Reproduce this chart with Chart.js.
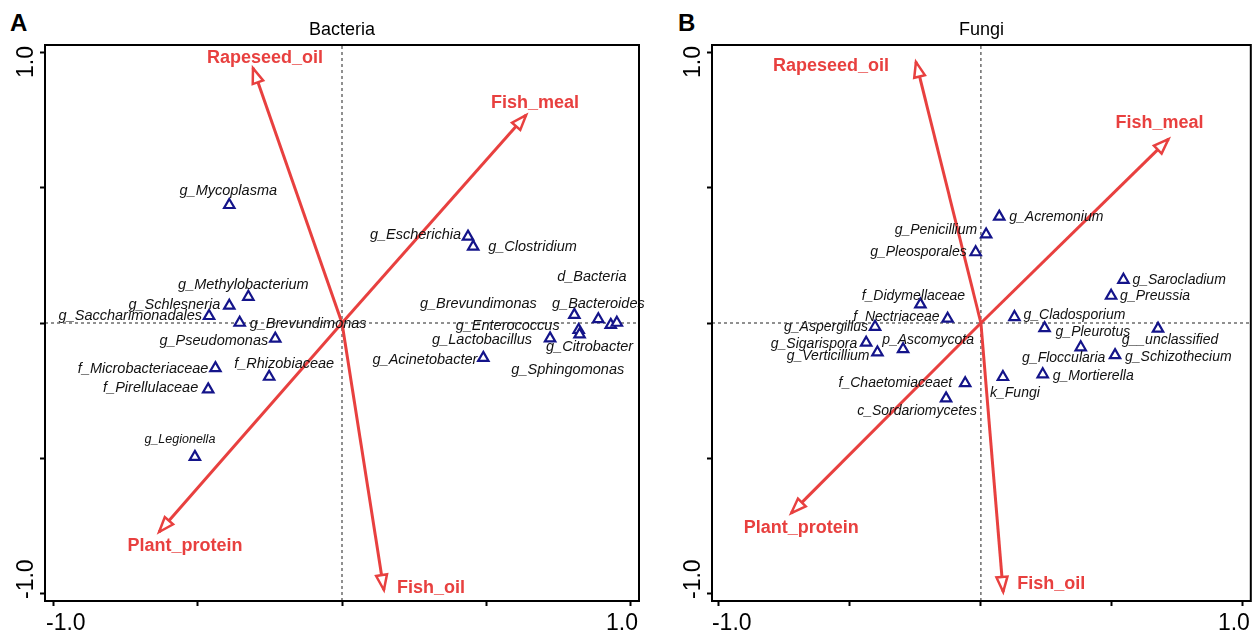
<!DOCTYPE html>
<html>
<head>
<meta charset="utf-8">
<script src="https://cdn.jsdelivr.net/npm/chart.js@4.4.1/dist/chart.umd.min.js"></script>
<style>
  body { margin: 0; background: #fff; width: 1259px; height: 636px; position: relative; overflow: hidden; font-family: "Liberation Sans", Arial, sans-serif; }
  canvas { position: absolute; top: 0; }
  #chartA { left: 0; }
  #chartB { left: 660px; }
  .tag { position: absolute; font-weight: bold; font-size: 24px; color: #000; }
</style>
</head>
<body>
<div class="tag" style="left:10px;top:9px">A</div>
<div class="tag" style="left:678px;top:9px">B</div>
<canvas id="chartA" width="660" height="636"></canvas>
<canvas id="chartB" width="599" height="636"></canvas>
<script>
// axis ticks
const tickValues = [-1, -0.5, 0, 0.5, 1];
const tickLabels = ['-1.0', '', '', '', '1.0'];

// environmental arrows (same order in both panels)
const envNames = ['Rapeseed_oil', 'Fish_meal', 'Plant_protein', 'Fish_oil'];
const bactEnvX = [-0.308, 0.637, -0.633, 0.145];
const bactEnvY = [0.944, 0.770, -0.774, -0.989];
const fungiEnvX = [-0.248, 0.716, -0.724, 0.085];
const fungiEnvY = [0.967, 0.681, -0.704, -0.996];

// Bacteria taxa
const bactNames = ['g_Mycoplasma', 'g_Methylobacterium', 'g_Schlesneria', 'g_Saccharimonadales', 'g_Brevundimonas',
  'g_Pseudomonas', 'f_Microbacteriaceae', 'f_Rhizobiaceae', 'f_Pirellulaceae', 'g_Legionella',
  'g_Escherichia', 'g_Clostridium', 'g_Bacteroides', 'g_Brevundimonas', 'g_Sphingomonas',
  'd_Bacteria', 'g_Enterococcus', 'g_Citrobacter', 'g_Lactobacillus', 'g_Acinetobacter'];
const bactX = [-0.390, -0.324, -0.390, -0.460, -0.354, -0.231, -0.438, -0.252, -0.463, -0.509,
  0.436, 0.454, 0.804, 0.887, 0.930, 0.951, 0.819, 0.822, 0.720, 0.489];
const bactY = [0.437, 0.097, 0.064, 0.026, 0.001, -0.058, -0.167, -0.199, -0.246, -0.496,
  0.320, 0.283, 0.030, 0.014, -0.007, 0.001, -0.026, -0.042, -0.057, -0.129];

// Fungi taxa
const fungiNames = ['g_Acremonium', 'g_Penicillium', 'g_Pleosporales', 'f_Didymellaceae', 'f_Nectriaceae',
  'g_Aspergillus', 'g_Sigarispora', 'g_Verticillium', 'p_Ascomycota', 'f_Chaetomiaceaet',
  'c_Sordariomycetes', 'k_Fungi', 'g_Cladosporium', 'g_Pleurotus', 'g__unclassified',
  'g_Floccularia', 'g_Schizothecium', 'g_Mortierella', 'g_Sarocladium', 'g_Preussia'];
const fungiX = [0.070, 0.020, -0.020, -0.231, -0.127, -0.404, -0.438, -0.395, -0.297, -0.060,
  -0.133, 0.084, 0.128, 0.243, 0.676, 0.381, 0.512, 0.236, 0.544, 0.497];
const fungiY = [0.394, 0.328, 0.262, 0.069, 0.016, -0.014, -0.073, -0.109, -0.097, -0.223,
  -0.279, -0.200, 0.022, -0.019, -0.021, -0.090, -0.119, -0.190, 0.160, 0.101];

// label placement: [dx, dy, align, fontSize] in pixels from the marker
const bactLabelPos = [[-1, -14, 'center'], [-5, -12, 'center'], [-9, -1, 'right'], [-7, 0, 'right'], [10, 1, 'left'],
  [-7, 2, 'right'], [-7, 1, 'right'], [15, -13, 'center'], [-10, -1, 'right'], [-15, -17, 'center', 12.5],
  [-7, -2, 'right'], [15, 0, 'left'], [24, -11, 'center'], [-120, -15, 'center'], [-43, 45, 'center'],
  [-25, -46, 'center'], [-19, -4, 'right'], [10, 13, 'center'], [-18, 2, 'right'], [-6, 2, 'right']];
const fungiLabelPos = [[10, 0, 'left'], [-9, -4, 'right'], [-9, 0, 'right'], [-7, -8, 'center'], [-8, -2, 'right'],
  [-7, 0, 'right'], [-9, 1, 'right'], [-8, 4, 'right'], [25, -9, 'center'], [-13, 0, 'right'],
  [-29, 13, 'center'], [12, 16, 'center'], [9, -2, 'left'], [11, 4, 'left'], [12, 11, 'center'],
  [-17, 11, 'center'], [10, 2, 'left'], [10, 2, 'left'], [9, 0, 'left'], [9, 0, 'left']];
const bactEnvPos = [[12, -10, 'center'], [9, -12, 'center'], [26, 14, 'center'], [13, -2, 'left']];
const fungiEnvPos = [[-85, 4, 'center'], [-9, -16, 'center'], [10, 15, 'center'], [14, -8, 'left']];

const RED = '#e8403f';
const NAVY = '#14148a';
const FONT = '"Liberation Sans", Arial, sans-serif';

const overlay = {
  id: 'overlay',
  afterDatasetsDraw(chart, args, opts) {
    const { ctx, chartArea: a, scales: { x, y } } = chart;
    const p = opts.panel;
    ctx.save();
    ctx.strokeStyle = '#000';
    ctx.lineWidth = 2;
    ctx.strokeRect(a.left, a.top, a.right - a.left, a.bottom - a.top);

    const ox = x.getPixelForValue(0), oy = y.getPixelForValue(0);
    p.envX.forEach(function(vx, i) {
      const tx = x.getPixelForValue(vx), ty = y.getPixelForValue(p.envY[i]);
      const ang = Math.atan2(ty - oy, tx - ox);
      const L = 15, W = 5.5;
      const bx = tx - L * Math.cos(ang), by = ty - L * Math.sin(ang);
      ctx.beginPath();
      ctx.moveTo(tx, ty);
      ctx.lineTo(bx + W * Math.sin(ang), by - W * Math.cos(ang));
      ctx.lineTo(bx - W * Math.sin(ang), by + W * Math.cos(ang));
      ctx.closePath();
      ctx.fillStyle = '#fff';
      ctx.fill();
      ctx.strokeStyle = RED;
      ctx.lineWidth = 2.5;
      ctx.stroke();
      const lp = p.envPos[i];
      ctx.font = 'bold 18px ' + FONT;
      ctx.fillStyle = RED;
      ctx.textAlign = lp[2];
      ctx.textBaseline = 'middle';
      ctx.fillText(envNames[i], tx + lp[0], ty + lp[1]);
    });

    ctx.fillStyle = '#111';
    ctx.textBaseline = 'middle';
    p.names.forEach(function(n, i) {
      const lp = p.labelPos[i];
      ctx.font = 'italic ' + (lp[3] || p.labelSize) + 'px ' + FONT;
      ctx.textAlign = lp[2];
      ctx.fillText(n, x.getPixelForValue(p.xs[i]) + lp[0], y.getPixelForValue(p.ys[i]) + lp[1]);
    });

    // tick labels for the ends of both axes
    ctx.fillStyle = '#000';
    ctx.font = '23px ' + FONT;
    tickValues.forEach(function(v, i) {
      if (!tickLabels[i]) return;
      const px = x.getPixelForValue(v);
      ctx.textBaseline = 'middle';
      ctx.textAlign = v < 0 ? 'left' : 'right';
      ctx.fillText(tickLabels[i], v < 0 ? px - 7 : px + 7, a.bottom + 23);
      const py = y.getPixelForValue(v);
      ctx.save();
      ctx.translate(a.left - 18, v < 0 ? py + 6 : py - 7);
      ctx.rotate(-Math.PI / 2);
      ctx.textAlign = v < 0 ? 'left' : 'right';
      ctx.fillText(tickLabels[i], 0, 0);
      ctx.restore();
    });
    ctx.restore();
  }
};

function makePanel(id, title, p) {
  const datasets = [{
    type: 'scatter',
    data: p.xs.map(function(v, i) { return { x: v, y: p.ys[i] }; }),
    pointStyle: 'triangle',
    pointRadius: 6,
    pointBorderWidth: 2.2,
    pointBorderColor: NAVY,
    pointBackgroundColor: '#fff'
  }];
  p.envX.forEach(function(v, i) {
    datasets.push({
      type: 'line',
      data: [{ x: 0, y: 0 }, { x: v, y: p.envY[i] }],
      borderColor: RED,
      borderWidth: 3,
      pointRadius: 0
    });
  });
  datasets.push({
    type: 'line', data: [{ x: 0, y: p.yMin }, { x: 0, y: p.yMax }],
    borderColor: '#222', borderWidth: 1, borderDash: [3, 3], pointRadius: 0
  });
  datasets.push({
    type: 'line', data: [{ x: p.xMin, y: 0 }, { x: p.xMax, y: 0 }],
    borderColor: '#222', borderWidth: 1, borderDash: [3, 3], pointRadius: 0
  });

  const axis = function(min, max, size) {
    return {
      type: 'linear', min: min, max: max,
      afterBuildTicks: function(s) { s.ticks = tickValues.map(function(v) { return { value: v }; }); },
      afterFit: size,
      ticks: { display: false },
      grid: { drawOnChartArea: false, drawTicks: true, tickLength: 5, tickWidth: 2, tickColor: '#000' },
      border: { display: true, color: '#000', width: 2 }
    };
  };

  new Chart(document.getElementById(id), {
    type: 'scatter',
    data: { datasets: datasets },
    options: {
      responsive: false,
      animation: false,
      layout: { padding: { left: 0, right: p.padRight, top: 0, bottom: 0 } },
      plugins: {
        legend: { display: false },
        tooltip: { enabled: false },
        title: {
          display: true, text: title, fullSize: false, color: '#000',
          font: { family: FONT, size: 18, weight: 'normal', lineHeight: 1.2 },
          padding: { top: 19, bottom: 4.4 }
        },
        overlay: { panel: p }
      },
      scales: {
        x: axis(p.xMin, p.xMax, function(s) { s.height = 35; }),
        y: axis(p.yMin, p.yMax, function(s) { s.width = p.yWidth; })
      }
    },
    plugins: [overlay]
  });
}

makePanel('chartA', 'Bacteria', {
  names: bactNames, xs: bactX, ys: bactY, labelPos: bactLabelPos, labelSize: 14.5,
  envX: bactEnvX, envY: bactEnvY, envPos: bactEnvPos,
  xMin: -1.0277, xMax: 1.0277, yMin: -1.0296, yMax: 1.0296, yWidth: 45, padRight: 21
});
makePanel('chartB', 'Fungi', {
  names: fungiNames, xs: fungiX, ys: fungiY, labelPos: fungiLabelPos, labelSize: 14,
  envX: fungiEnvX, envY: fungiEnvY, envPos: fungiEnvPos,
  xMin: -1.0265, xMax: 1.0302, yMin: -1.0296, yMax: 1.0296, yWidth: 52, padRight: 3
});
</script>
</body>
</html>
